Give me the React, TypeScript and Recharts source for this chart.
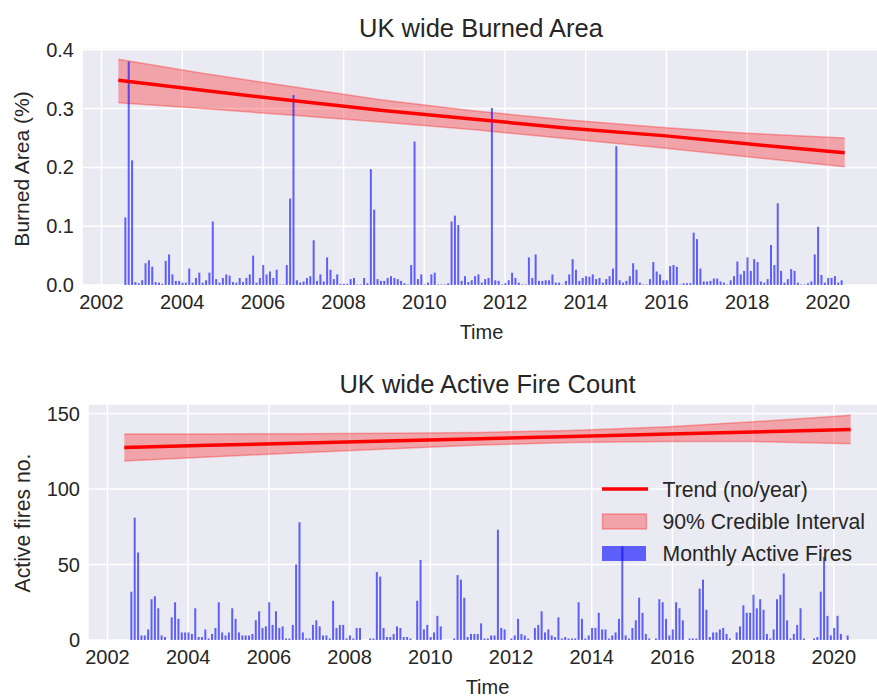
import React from "react";
import { Area, Bar, CartesianGrid, ComposedChart, Line, XAxis, YAxis } from "recharts";

const FONT = '"Liberation Sans", Arial, sans-serif';
const TEXT = "#262626";
const BG = "#eaeaf2";

// one value per month, first bar is Aug 2002, last is May 2020
const firstMonth = "2002-08";

// UK burned area (%)
const burnedArea = [
  0.115, 0.38, 0.212, 0.005, 0.003,
  0.008, 0.037, 0.042, 0.031, 0.005, 0.004, 0.002, 0.041, 0.052, 0.018, 0.007, 0.007, // 2003
  0.004, 0.004, 0.028, 0.004, 0.012, 0.021, 0.004, 0.008, 0.021, 0.108, 0.01, 0.004, // 2004
  0.012, 0.018, 0.016, 0.005, 0.004, 0.012, 0.005, 0.012, 0.018, 0.05, 0.004, 0.012, // 2005
  0.034, 0.018, 0.023, 0.012, 0.026, 0.001, 0.001, 0.034, 0.147, 0.323, 0.008, 0.004, // 2006
  0.006, 0.012, 0.015, 0.076, 0.007, 0.018, 0.006, 0.047, 0.026, 0.01, 0.018, 0.002, // 2007
  0.002, 0.002, 0.01, 0.012, 0.001, 0.001, 0.012, 0.003, 0.197, 0.128, 0.01, 0.007, // 2008
  0.007, 0.012, 0.015, 0.012, 0.01, 0.007, 0.003, 0.001, 0.034, 0.244, 0.01, 0.018, // 2009
  0.001, 0.004, 0.018, 0.021, 0.001, 0.001, 0.001, 0.003, 0.108, 0.118, 0.102, 0.007, // 2010
  0.015, 0.005, 0.008, 0.015, 0.018, 0.004, 0.01, 0.012, 0.301, 0.008, 0.007, 0.001, // 2011
  0.003, 0.008, 0.021, 0.012, 0.004, 0.001, 0.001, 0.047, 0.012, 0.052, 0.007, 0.007, // 2012
  0.008, 0.008, 0.018, 0.004, 0.004, 0.001, 0.007, 0.018, 0.044, 0.026, 0.007, 0.012, // 2013
  0.015, 0.014, 0.018, 0.01, 0.012, 0.004, 0.01, 0.015, 0.028, 0.236, 0.008, 0.004, // 2014
  0.007, 0.015, 0.037, 0.026, 0.004, 0.001, 0.001, 0.01, 0.039, 0.023, 0.018, 0.008, // 2015
  0.008, 0.032, 0.034, 0.031, 0.001, 0.003, 0.003, 0.003, 0.089, 0.078, 0.028, 0.006, // 2016
  0.006, 0.007, 0.011, 0.011, 0.006, 0.004, 0.001, 0.008, 0.015, 0.04, 0.018, 0.024, // 2017
  0.047, 0.024, 0.044, 0.039, 0.006, 0.004, 0.01, 0.068, 0.034, 0.139, 0.024, 0.004, // 2018
  0.01, 0.027, 0.024, 0.004, 0.001, 0.001, 0.003, 0.006, 0.052, 0.099, 0.017, 0.004, // 2019
  0.012, 0.012, 0.015, 0.004, 0.008, // 2020
];

// UK active fire count
const activeFires = [
  32, 81, 58, 3, 3,
  7, 27, 29, 21, 3, 2, 0, 15, 25, 14, 5, 5, // 2003
  5, 4, 21, 2, 2, 7, 1, 4, 8, 25, 5, 3, // 2004
  5, 21, 14, 5, 3, 3, 3, 4, 13, 19, 8, 9, // 2005
  25, 10, 19, 8, 9, 1, 1, 10, 50, 78, 5, 1, // 2006
  1, 10, 13, 9, 3, 3, 1, 26, 8, 10, 10, 1, // 2007
  3, 1, 8, 8, 0, 0, 1, 1, 45, 42, 8, 2, // 2008
  2, 4, 9, 8, 2, 2, 1, 0, 26, 53, 7, 10, // 2009
  2, 5, 16, 9, 0, 0, 0, 1, 43, 40, 28, 2, // 2010
  4, 4, 4, 11, 1, 1, 3, 3, 73, 8, 7, 0, // 2011
  1, 3, 14, 4, 3, 1, 0, 8, 10, 19, 5, 7, // 2012
  3, 2, 15, 1, 2, 1, 1, 1, 25, 14, 1, 3, // 2013
  8, 8, 18, 7, 7, 1, 3, 5, 14, 62, 3, 1, // 2014
  8, 13, 28, 18, 4, 1, 0, 1, 27, 25, 14, 3, // 2015
  7, 25, 21, 13, 0, 1, 1, 1, 34, 40, 20, 2, // 2016
  5, 5, 7, 8, 4, 1, 0, 5, 9, 23, 18, 18, // 2017
  30, 21, 27, 20, 4, 1, 7, 27, 30, 44, 13, 1, // 2018
  4, 10, 21, 1, 0, 0, 1, 2, 32, 55, 16, 3, // 2019
  8, 16, 4, 0, 3, // 2020
];

// trend and 90% credible interval, read at a few dates
const trendDates = ["2002-06", "2004-07", "2006-09", "2008-12", "2011-04", "2013-07", "2015-12", "2018-01", "2020-06"];
const burnedTrend = [0.348, 0.331, 0.314, 0.297, 0.282, 0.267, 0.254, 0.24, 0.225];
const burnedLow = [0.31, 0.3, 0.289, 0.277, 0.264, 0.249, 0.233, 0.218, 0.201];
const burnedHigh = [0.384, 0.36, 0.338, 0.315, 0.296, 0.281, 0.268, 0.258, 0.25];
const firesTrend = [127.5, 128.9, 130.3, 131.8, 133.3, 134.8, 136.4, 137.8, 139.4];
const firesLow = [118.5, 121.2, 123.8, 126.5, 129.1, 130.8, 131.5, 131.5, 129.9];
const firesHigh = [136.5, 136.5, 136.6, 137.0, 137.5, 138.8, 141.3, 144.5, 148.9];

const yearTicks = [2002, 2004, 2006, 2008, 2010, 2012, 2014, 2016, 2018, 2020];
const burnedTicks = [0, 0.1, 0.2, 0.3, 0.4];
const firesTicks = [0, 50, 100, 150];

const toYear = (ym: string) => {
  const [y, m] = ym.split("-").map(Number);
  return y + (m - 1) / 12;
};

function buildRows(values: number[], trend: number[], low: number[], high: number[]) {
  const rows = new Map<number, any>();
  const start = toYear(firstMonth);
  values.forEach((v, i) => {
    const x = +(start + i / 12).toFixed(4);
    rows.set(x, { x, value: v });
  });
  trendDates.forEach((d, i) => {
    const x = +toYear(d).toFixed(4);
    const r = rows.get(x) ?? { x };
    r.trend = trend[i];
    r.band = [low[i], high[i]];
    rows.set(x, r);
  });
  return [...rows.values()].sort((a, b) => a.x - b.x);
}

const burnedRows = buildRows(burnedArea, burnedTrend, burnedLow, burnedHigh);
const fireRows = buildRows(activeFires, firesTrend, firesLow, firesHigh);

const tickStyle = { fill: TEXT, fontSize: 20, fontFamily: FONT };

function Panel(props: {
  rows: any[];
  width: number;
  height: number;
  top: number;
  plotTop: number;
  axisWidth: number;
  xAxisHeight: number;
  yMax: number;
  yTicks: number[];
  fmt: (v: number) => string;
}) {
  const { rows, width, height, top, plotTop, axisWidth, xAxisHeight, yMax, yTicks, fmt } = props;
  return (
    <div style={{ position: "absolute", left: 0, top }}>
      <ComposedChart width={width} height={height} data={rows} margin={{ top: plotTop, right: 0, bottom: 0, left: 0 }}>
        <CartesianGrid fill={BG} fillOpacity={1} stroke="#ffffff" strokeWidth={1.5} />
        <XAxis
          type="number"
          dataKey="x"
          domain={[2001.517, 2021.317]}
          ticks={yearTicks}
          interval={0}
          allowDataOverflow
          axisLine={false}
          tickLine={false}
          height={xAxisHeight}
          tickMargin={4}
          tick={tickStyle}
        />
        <YAxis
          type="number"
          domain={[0, yMax]}
          ticks={yTicks}
          interval={0}
          allowDataOverflow
          width={axisWidth}
          axisLine={false}
          tickLine={false}
          tickFormatter={fmt}
          tick={tickStyle}
        />
        <Area
          type="linear"
          dataKey="band"
          fill="#ff0000"
          fillOpacity={0.3}
          stroke="#ff0000"
          strokeOpacity={0.3}
          strokeWidth={1.5}
          connectNulls
          dot={false}
          activeDot={false}
          isAnimationActive={false}
        />
        <Bar dataKey="value" fill="#0000ff" fillOpacity={0.6} barSize={2} isAnimationActive={false} />
        <Line
          type="linear"
          dataKey="trend"
          stroke="#ff0000"
          strokeWidth={3.5}
          dot={false}
          activeDot={false}
          connectNulls
          isAnimationActive={false}
        />
      </ComposedChart>
    </div>
  );
}

export default function App() {
  return (
    <div
      style={{
        position: "absolute",
        left: 0,
        top: 0,
        width: 877,
        height: 697,
        overflow: "hidden",
        background: "#ffffff",
        fontFamily: FONT,
      }}
    >
      <Panel
        rows={burnedRows}
        width={881}
        height={340}
        top={0}
        plotTop={48}
        axisWidth={82}
        xAxisHeight={55}
        yMax={0.403}
        yTicks={burnedTicks}
        fmt={(v) => v.toFixed(1)}
      />
      <Panel
        rows={fireRows}
        width={887}
        height={337}
        top={360}
        plotTop={44}
        axisWidth={88}
        xAxisHeight={57}
        yMax={156.3}
        yTicks={firesTicks}
        fmt={(v) => String(v)}
      />
      <svg width={877} height={697} style={{ position: "absolute", left: 0, top: 0, pointerEvents: "none" }}>
        <g fill={TEXT} fontFamily={FONT}>
          <text x={481} y={36.7} fontSize={25.5} textAnchor="middle">UK wide Burned Area</text>
          <text x={487.5} y={392.5} fontSize={25.5} textAnchor="middle">UK wide Active Fire Count</text>
          <text x={481.5} y={338.5} fontSize={20} textAnchor="middle">Time</text>
          <text x={487.5} y={694} fontSize={20} textAnchor="middle">Time</text>
          <text transform="translate(29,169) rotate(-90)" fontSize={21} textAnchor="middle">Burned Area (%)</text>
          <text transform="translate(30,523) rotate(-90)" fontSize={21.2} textAnchor="middle">Active fires no.</text>
        </g>
        <g>
          <line x1={602} x2={648} y1={489} y2={489} stroke="#ff0000" strokeWidth={3.5} />
          <rect x={602.5} y={514} width={44} height={15} fill="#ff0000" fillOpacity={0.3} stroke="#ff0000" strokeOpacity={0.3} strokeWidth={1.5} />
          <rect x={602} y={546} width={44} height={15} fill="#0000ff" fillOpacity={0.6} />
          <g fill={TEXT} fontFamily={FONT} fontSize={21.2}>
            <text x={662.5} y={496.5}>Trend (no/year)</text>
            <text x={662.5} y={529}>90% Credible Interval</text>
            <text x={662.5} y={560.7}>Monthly Active Fires</text>
          </g>
        </g>
      </svg>
    </div>
  );
}
